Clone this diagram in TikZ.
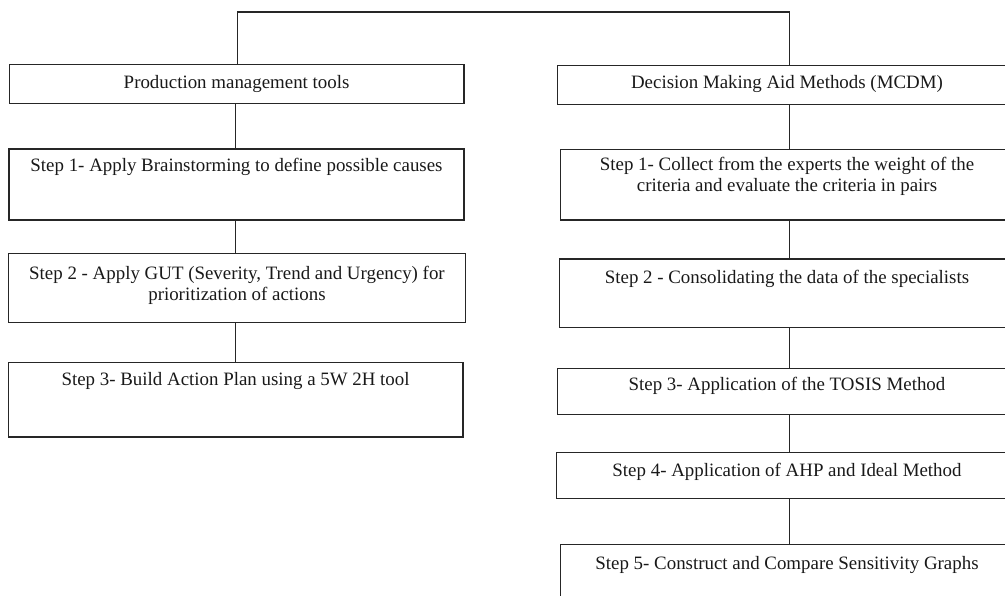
\documentclass[tikz,border=0pt]{standalone}
\usepackage{fontspec}
\setmainfont{Liberation Serif}
\begin{document}
\begin{tikzpicture}[x=1pt,y=-1pt,
  box/.style={draw=black!85, line width=1.1pt, rectangle, inner sep=0pt},
  txt/.style={anchor=base, inner sep=0pt, align=center, text=black!90, font=\fontsize{18.9}{21.5}\selectfont},
  conn/.style={draw=black!85, line width=1.1pt}]
\useasboundingbox (0,0) rectangle (1005,596);
\clip (0,0) rectangle (1005,596);
% left column boxes
\node[box, minimum width=454.7, minimum height=39]   (L0) at (236.6,83.8) {};
\node[box, minimum width=455,   minimum height=71]   (L1) at (236.5,184.5) {};
\node[box, minimum width=457.4, minimum height=68.6] (L2) at (237,288) {};
\node[box, minimum width=454.7, minimum height=74.3] (L3) at (235.6,399.8) {};
% right column boxes
\node[box, minimum width=458.6, minimum height=38.6] (R0) at (787,85) {};
\node[box, minimum width=452.6, minimum height=70.7] (R1) at (787,184.65) {};
\node[box, minimum width=455.4, minimum height=68.7] (R2) at (787,293.35) {};
\node[box, minimum width=458.6, minimum height=46]   (R3) at (787,391.3) {};
\node[box, minimum width=460.6, minimum height=46]   (R4) at (787,475.3) {};
\node[box, minimum width=452.6, minimum height=70.7] (R5) at (787,579.65) {};
% texts (base anchor = baseline of last line)
\node[txt] (tL0) at (236.6,88.8) {Production management tools};
\node[txt] (tL1) at (236.5,171.5) {Step 1- Apply Brainstorming to define possible causes};
\node[txt] (tL2) at (237,300.8) {Step 2 - Apply GUT (Severity, Trend and Urgency) for\\prioritization of actions};
\node[txt] (tL3) at (235.6,385.5) {Step 3- Build Action Plan using a 5W 2H tool};
\node[txt] (tR0) at (787,89) {Decision Making Aid Methods (MCDM)};
\node[txt] (tR1) at (787,191.8) {Step 1- Collect from the experts the weight of the\\criteria and evaluate the criteria in pairs};
\node[txt] (tR2) at (787,283.5) {Step 2 - Consolidating the data of the specialists};
\node[txt] (tR3) at (787,391) {Step 3- Application of the TOSIS Method};
\node[txt] (tR4) at (787,476.5) {Step 4- Application of AHP and Ideal Method};
\node[txt] (tR5) at (787,569.5) {Step 5- Construct and Compare Sensitivity Graphs};
% connectors
\coordinate (tl) at (237.7,12);
\coordinate (tr) at (789.3,12);
\coordinate (lx) at (235.5,0);
\coordinate (rx) at (789.3,0);
\draw[conn] (L0.north -| tl) -- (tl) -- (tr) -- (R0.north -| tr);
\draw[conn] (L0.south -| lx) -- (L1.north -| lx);
\draw[conn] (L1.south -| lx) -- (L2.north -| lx);
\draw[conn] (L2.south -| lx) -- (L3.north -| lx);
\draw[conn] (R0.south -| rx) -- (R1.north -| rx);
\draw[conn] (R1.south -| rx) -- (R2.north -| rx);
\draw[conn] (R2.south -| rx) -- (R3.north -| rx);
\draw[conn] (R3.south -| rx) -- (R4.north -| rx);
\draw[conn] (R4.south -| rx) -- (R5.north -| rx);
\end{tikzpicture}
\end{document}
